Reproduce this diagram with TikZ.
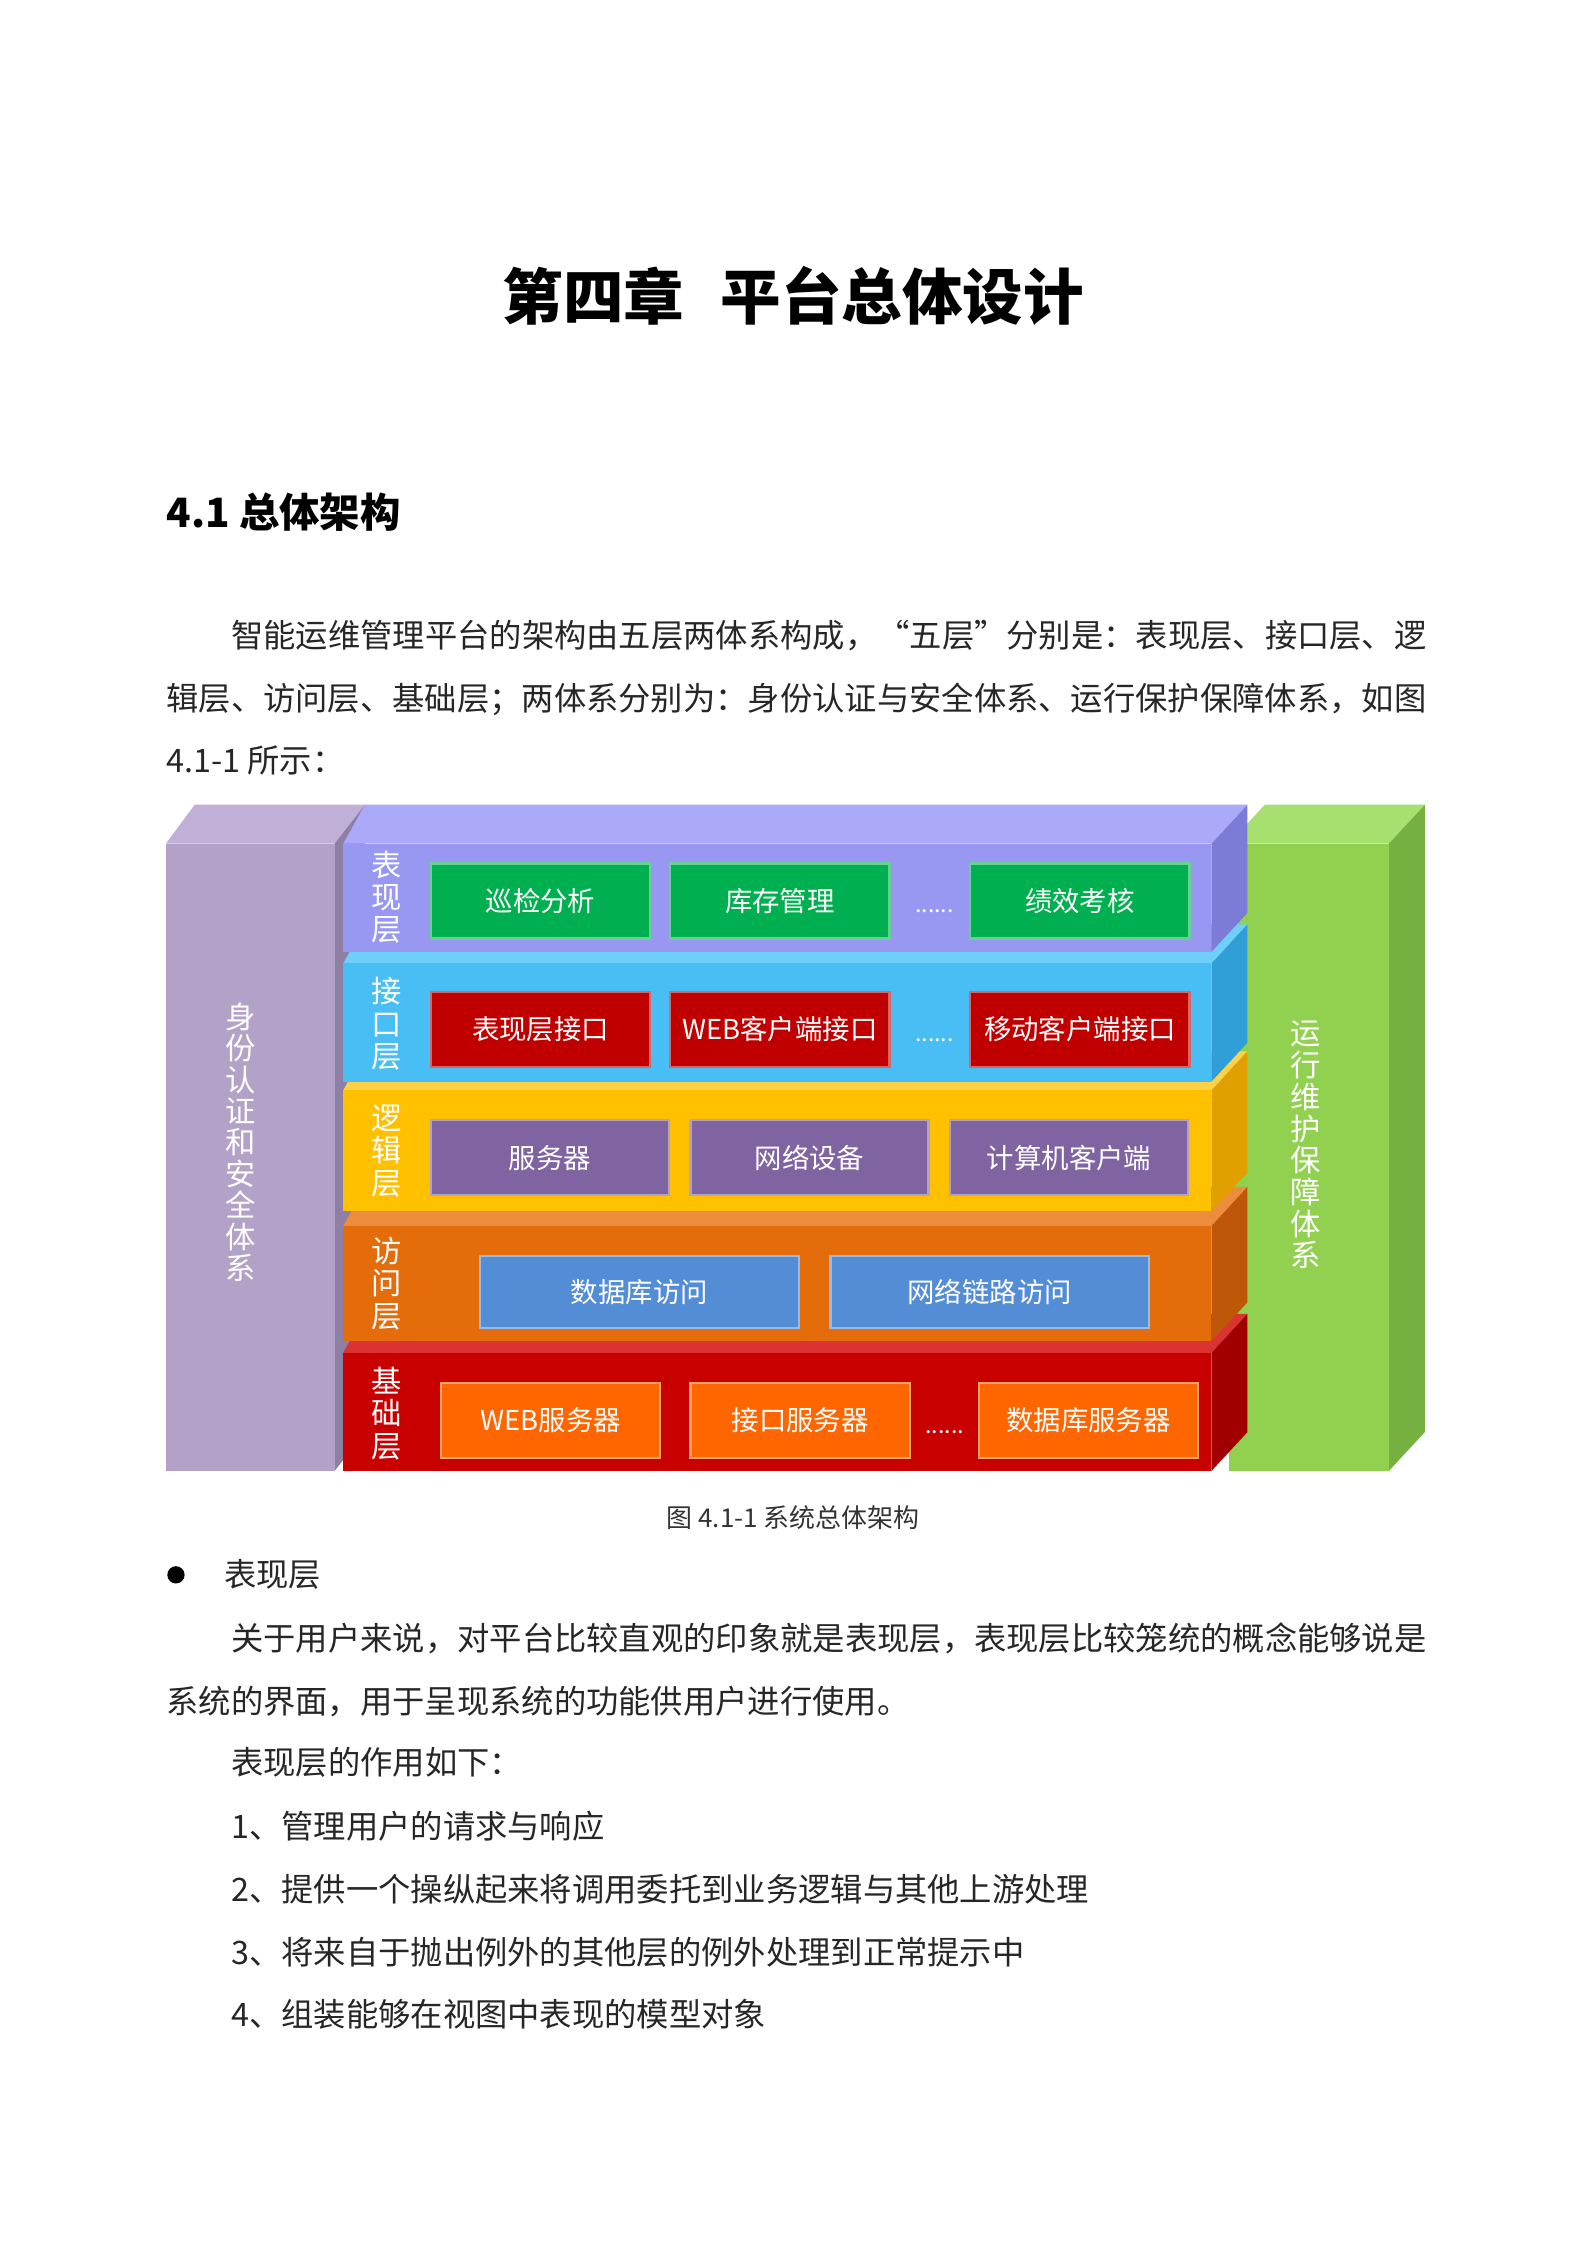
\documentclass[tikz,border=0pt]{standalone}
\usepackage{fontspec}
\setmainfont{Noto Sans CJK SC}
\begin{document}
\begin{tikzpicture}[x=0.5pt,y=-0.5pt,
  body/.style={anchor=west,inner sep=0,font=\fontsize{11.2}{13}\selectfont,text=black!85},
  bx/.style={draw=#1!60!white,line width=0.8pt,text=white,font=\fontsize{9.5}{11}\selectfont,inner sep=0,anchor=north west},
  lbl/.style={text=white,font=\fontsize{10.5}{11.2}\selectfont,align=center,inner sep=0},
  dots/.style={text=white,font=\fontsize{8}{9}\selectfont,inner sep=0}]
\useasboundingbox (0,0) rectangle (1100,1556);
\fill[white] (0,0) rectangle (1100,1556);
% texts
\node[font=\bfseries\fontsize{21}{24}\selectfont] (title) at (550,205) {第四章\hspace{0.6em}平台总体设计};
\node[anchor=west,font=\bfseries\fontsize{14}{16}\selectfont,inner sep=0] (h) at (115,355) {4.1 总体架构};
\node[body] (p1) at (160,441) {智能运维管理平台的架构由五层两体系构成，“五层”分别是：表现层、接口层、逻};
\node[body] (p2) at (115,485) {辑层、访问层、基础层；两体系分别为：身份认证与安全体系、运行保护保障体系，如图};
\node[body] (p3) at (115,527) {4.1-1 所示：};
% left column
\fill[fill={rgb,255:red,192;green,176;blue,216}] (115,585)--(135,558)--(253,558)--(232,585)--cycle;
\fill[fill={rgb,255:red,142;green,127;blue,165}] (232,585)--(253,558)--(253,993)--(232,1020)--cycle;
\fill[fill={rgb,255:red,179;green,162;blue,199}] (115,585) rectangle (232,1020);
\node[lbl,font=\fontsize{10.5}{10.9}\selectfont] (lc) at (167,792) {身\\份\\认\\证\\和\\安\\全\\体\\系};
% right column
\fill[fill={rgb,255:red,168;green,224;blue,112}] (852,585)--(877,558)--(988,558)--(963,585)--cycle;
\fill[fill={rgb,255:red,118;green,176;blue,64}] (963,585)--(988,558)--(988,993)--(963,1020)--cycle;
\fill[fill={rgb,255:red,146;green,208;blue,80}] (852,585) rectangle (963,1020);
\node[lbl,font=\fontsize{10.5}{11}\selectfont] (rc) at (905,794) {运\\行\\维\\护\\保\\障\\体\\系};
% layers (bottom to top)
\foreach \ya/\yb/\cf/\ct/\cs in {938/1020/{rgb,255:red,200;green,0;blue,0}/{rgb,255:red,220;green,50;blue,50}/{rgb,255:red,160;green,0;blue,0},
  850/930/{rgb,255:red,228;green,108;blue,10}/{rgb,255:red,236;green,140;blue,60}/{rgb,255:red,190;green,88;blue,8},
  756/840/{rgb,255:red,255;green,192;blue,0}/{rgb,255:red,255;green,210;blue,70}/{rgb,255:red,225;green,160;blue,0},
  668/750/{rgb,255:red,72;green,190;blue,245}/{rgb,255:red,110;green,208;blue,250}/{rgb,255:red,48;green,158;blue,215},
  585/660/{rgb,255:red,152;green,152;blue,242}/{rgb,255:red,170;green,170;blue,248}/{rgb,255:red,124;green,124;blue,216}}{
  \fill[fill=\ct] (238,\ya)--(253,\ya-27)--(865,\ya-27)--(840,\ya)--cycle;
  \fill[fill=\cs] (840,\ya)--(865,\ya-27)--(865,\yb-27)--(840,\yb)--cycle;
  \fill[fill=\cf] (238,\ya) rectangle (840,\yb);
}
\node[lbl] (l1) at (268,622) {表\\现\\层};
\node[lbl] (l2) at (268,710) {接\\口\\层};
\node[lbl] (l3) at (268,798) {逻\\辑\\层};
\node[lbl] (l4) at (268,890) {访\\问\\层};
\node[lbl] (l5) at (268,980) {基\\础\\层};
\definecolor{cg}{RGB}{0,176,80}\definecolor{cr}{RGB}{192,0,0}
\definecolor{cp}{RGB}{128,100,162}\definecolor{cb}{RGB}{83,141,213}\definecolor{co}{RGB}{255,102,0}
% layer1
\node[bx=cg,fill=cg,minimum width=76pt,minimum height=26pt] (a1) at (298,598) {巡检分析};
\node[bx=cg,fill=cg,minimum width=76pt,minimum height=26pt] (a2) at (464,598) {库存管理};
\node[bx=cg,fill=cg,minimum width=76pt,minimum height=26pt] (a3) at (672,598) {绩效考核};
\node[dots] (d1) at (648,632) {......};
% layer2
\node[bx=cr,fill=cr,minimum width=76pt,minimum height=26pt] (b1) at (298,687) {表现层接口};
\node[bx=cr,fill=cr,minimum width=76pt,minimum height=26pt] (b2) at (464,687) {WEB客户端接口};
\node[bx=cr,fill=cr,minimum width=76pt,minimum height=26pt] (b3) at (672,687) {移动客户端接口};
\node[dots] (d2) at (648,721) {......};
% layer3
\node[bx=cp,fill=cp,minimum width=82.5pt,minimum height=26pt] (c1) at (298,776) {服务器};
\node[bx=cp,fill=cp,minimum width=82.5pt,minimum height=26pt] (c2) at (478,776) {网络设备};
\node[bx=cp,fill=cp,minimum width=82.5pt,minimum height=26pt] (c3) at (658,776) {计算机客户端};
% layer4
\node[bx=cb,fill=cb,minimum width=110.5pt,minimum height=25pt] (e1) at (332,870) {数据库访问};
\node[bx=cb,fill=cb,minimum width=110.5pt,minimum height=25pt] (e2) at (575,870) {网络链路访问};
% layer5
\node[bx=co,fill=co,minimum width=76pt,minimum height=26pt] (f1) at (305,958) {WEB服务器};
\node[bx=co,fill=co,minimum width=76pt,minimum height=26pt] (f2) at (478,958) {接口服务器};
\node[bx=co,fill=co,minimum width=76pt,minimum height=26pt] (f3) at (678,958) {数据库服务器};
\node[dots] (d5) at (655,993) {......};
% caption and rest
\node[font=\fontsize{9}{11}\selectfont,text=black!80] (cap) at (550,1052) {图 4.1-1 系统总体架构};
\fill[black] (122,1092) circle (6);
\node[body] (b0) at (155,1092) {表现层};
\node[body] (q1) at (160,1136) {关于用户来说，对平台比较直观的印象就是表现层，表现层比较笼统的概念能够说是};
\node[body] (q2) at (115,1180) {系统的界面，用于呈现系统的功能供用户进行使用。};
\node[body] (q3) at (160,1222) {表现层的作用如下：};
\node[body] (q4) at (160,1266) {1、管理用户的请求与响应};
\node[body] (q5) at (160,1310) {2、提供一个操纵起来将调用委托到业务逻辑与其他上游处理};
\node[body] (q6) at (160,1354) {3、将来自于抛出例外的其他层的例外处理到正常提示中};
\node[body] (q7) at (160,1397) {4、组装能够在视图中表现的模型对象};
\end{tikzpicture}
\end{document}
